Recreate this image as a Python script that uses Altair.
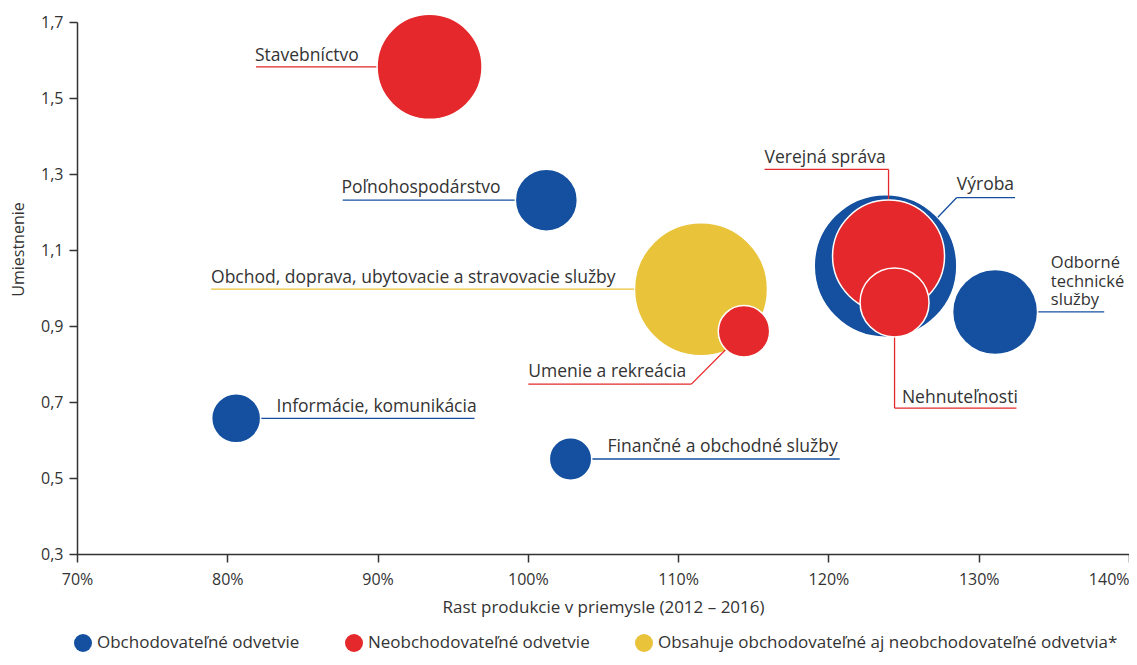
import altair as alt
import pandas as pd

# ---------------- data ----------------
sectors = [
    "Stavebníctvo", "Poľnohospodárstvo",
    "Obchod, doprava, ubytovacie a stravovacie služby", "Umenie a rekreácia",
    "Informácie, komunikácia", "Finančné a obchodné služby", "Výroba",
    "Verejná správa", "Nehnuteľnosti", "Odborné technické služby",
]
growth = [93.46, 101.23, 111.52, 114.38, 80.59, 102.84, 123.80, 124.00, 124.40, 131.09]   # %
location = [1.582, 1.231, 0.997, 0.886, 0.657, 0.550, 1.058, 1.084, 0.962, 0.937]
weight = [10.84, 3.78, 17.40, 2.60, 2.36, 1.77, 20.0, 12.34, 4.68, 7.11]
G_O = "Obchodovateľné odvetvie"
G_N = "Neobchodovateľné odvetvie"
G_B = "Obsahuje obchodovateľné aj neobchodovateľné odvetvia*"
groups = [G_N, G_O, G_B, G_N, G_O, G_O, G_O, G_N, G_N, G_O]
layer_back = [False, False, True, False, False, False, True, False, False, False]
draw_rank = [1, 2, 0, 3, 4, 5, 0, 6, 7, 8]

# label annotations (text anchor in data coordinates)
label_text = [
    "Stavebníctvo", "Poľnohospodárstvo",
    "Obchod, doprava, ubytovacie a stravovacie služby", "Umenie a rekreácia",
    "Informácie, komunikácia", "Finančné a obchodné služby", "Výroba",
    "Verejná správa", "Nehnuteľnosti", "Odborné\ntechnické\nslužby",
]
label_x = [81.84, 87.60, 78.92, 100.03, 83.28, 105.30, 128.54, 115.75, 124.89, 134.80]
label_y = [1.598, 1.249, 1.013, 0.766, 0.674, 0.568, 1.258, 1.330, 0.698, 1.052]
label_multi = [False] * 9 + [True]

# leader line segments
seg_x = [81.91, 87.68, 78.92, 100.03, 110.88, 80.59, 102.84, 115.75, 124.00, 128.54, 128.54, 124.40, 124.40, 131.09]
seg_y = [1.582, 1.231, 0.997, 0.747, 0.747, 0.657, 0.550, 1.312, 1.312, 1.238, 1.238, 0.962, 0.684, 0.937]
seg_x2 = [93.46, 101.23, 107.07, 110.88, 114.38, 96.45, 120.75, 124.00, 124.00, 132.42, 127.28, 124.40, 132.51, 138.35]
seg_y2 = [1.582, 1.231, 0.997, 0.747, 0.886, 0.657, 0.550, 1.312, 1.084, 1.238, 1.186, 0.684, 0.684, 0.937]
seg_group = [G_N, G_O, G_B, G_N, G_N, G_O, G_O, G_N, G_N, G_O, G_O, G_N, G_N, G_O]

x_ticks = [70, 80, 90, 100, 110, 120, 130, 140]
y_ticks = [0.3, 0.5, 0.7, 0.9, 1.1, 1.3, 1.5, 1.7]

group_domain = [G_O, G_N, G_B]
group_colors = ["#14509f", "#e4282b", "#e9c33a"]

bubbles = pd.DataFrame({
    "sector": sectors, "growth": growth, "location": location, "weight": weight,
    "group": groups, "back": layer_back, "rank": draw_rank,
})
labels = pd.DataFrame({"label": label_text, "x": label_x, "y": label_y, "multi": label_multi})
segs = pd.DataFrame({"x": seg_x, "y": seg_y, "x2": seg_x2, "y2": seg_y2, "group": seg_group})

TEXT = "#333333"
xscale = alt.Scale(domain=[70, 140], nice=False, zero=False)
yscale = alt.Scale(domain=[0.3, 1.7], nice=False, zero=False)
cscale = alt.Scale(domain=group_domain, range=group_colors)
sscale = alt.Scale(domain=[0, 20], range=[0, 20335], zero=True)

x_axis = alt.Axis(
    values=x_ticks, labelExpr="datum.value + '%'", title="Rast produkcie v priemysle (2012 – 2016)",
    grid=False, tickSize=8, labelPadding=9, labelFontSize=16,
    labelAlign={"condition": {"test": "datum.value == 140", "value": "right"}, "value": "center"},
    titleFontSize=17, titleFontWeight="normal", titleY=53, titleBaseline="middle",
)
y_axis = alt.Axis(
    values=y_ticks, labelExpr="replace(format(datum.value, '.1f'), '.', ',')",
    title="Umiestnenie", grid=False, tickSize=8, labelPadding=6, labelFontSize=16,
    titleFontSize=16, titleFontWeight="normal", titleX=-59, titleY=227,
    titleBaseline="middle", titleAlign="center", titleAngle=270,
)

base_x = alt.X("growth:Q", scale=xscale, axis=x_axis)
base_y = alt.Y("location:Q", scale=yscale, axis=y_axis)

circles_back = alt.Chart(bubbles).transform_filter("datum.back").mark_circle(
    opacity=1, stroke="white", strokeWidth=1.5
).encode(
    x=base_x, y=base_y,
    size=alt.Size("weight:Q", scale=sscale, legend=None),
    color=alt.Color("group:N", scale=cscale, title=None, legend=alt.Legend(
        orient="none", legendX=-3, legendY=612, direction="horizontal", columns=3,
        symbolType="circle", symbolSize=324, symbolStrokeWidth=0, symbolOpacity=1,
        labelFontSize=17, labelColor=TEXT, labelOffset=5, columnPadding=45, padding=0,
        labelLimit=700,
    )),
    order=alt.Order("rank:Q"),
)

circles_front = alt.Chart(bubbles).transform_filter("!datum.back").mark_circle(
    opacity=1, stroke="white", strokeWidth=1.5
).encode(
    x=base_x, y=base_y,
    size=alt.Size("weight:Q", scale=sscale, legend=None),
    color=alt.Color("group:N", scale=cscale, legend=None),
    order=alt.Order("rank:Q"),
)

lines = alt.Chart(segs).mark_rule(strokeWidth=1.3).encode(
    x=alt.X("x:Q", scale=xscale), y=alt.Y("y:Q", scale=yscale),
    x2="x2:Q", y2="y2:Q",
    color=alt.Color("group:N", scale=cscale, legend=None),
)

texts = alt.Chart(labels).transform_filter("!datum.multi").mark_text(
    align="left", baseline="alphabetic", fontSize=17.5, color=TEXT
).encode(
    x=alt.X("x:Q", scale=xscale), y=alt.Y("y:Q", scale=yscale), text="label:N",
)

texts_multi = alt.Chart(labels).transform_filter("datum.multi").mark_text(
    align="left", baseline="alphabetic", fontSize=16.5, color=TEXT, lineBreak="\n", lineHeight=18.5
).encode(
    x=alt.X("x:Q", scale=xscale), y=alt.Y("y:Q", scale=yscale), text="label:N",
)

chart = alt.layer(circles_back, lines, circles_front, texts, texts_multi).properties(
    width=1052, height=532,
    padding={"left": 69, "top": 14, "right": 0, "bottom": 103},
    autosize=alt.AutoSizeParams(type="none"),
).configure(
    font="Open Sans",
).configure_view(stroke=None).configure_axis(
    domainColor="#333333", tickColor="#333333", labelColor=TEXT, titleColor=TEXT,
    domainWidth=1.5, tickWidth=1.5,
)

chart.save("out.html", embed_options={"renderer": "svg", "actions": False})
